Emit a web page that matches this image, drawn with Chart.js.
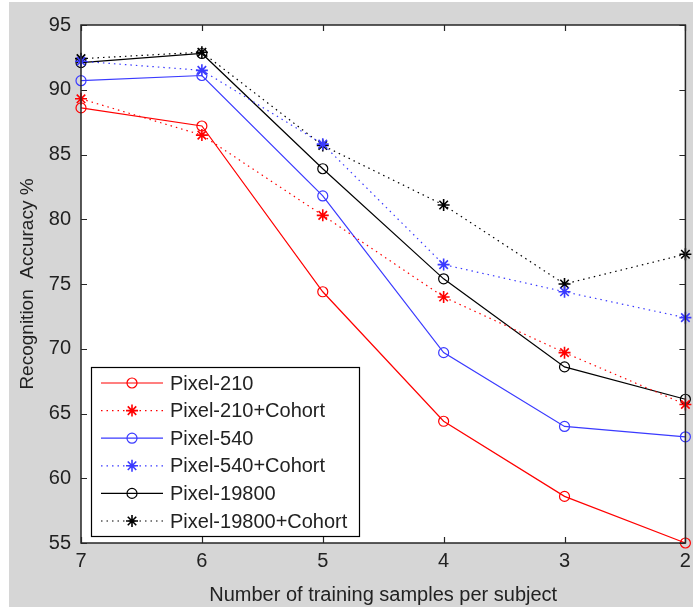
<!DOCTYPE html>
<html>
<head>
<meta charset="utf-8">
<script src="https://cdn.jsdelivr.net/npm/chart.js@4.4.0/dist/chart.umd.min.js"></script>
<style>
  html, body { margin: 0; padding: 0; background: #fff; }
  #wrap { width: 693px; height: 607px; position: relative; }
</style>
</head>
<body>
<div id="wrap"><canvas id="grafico" width="693" height="607"></canvas></div>
<script>
// datos
let muestras = ["7", "6", "5", "4", "3", "2"];
let pixel210 = [88.6, 87.2, 74.4, 64.4, 58.6, 55.0];
let pixel210Cohort = [89.3, 86.5, 80.3, 74.0, 69.7, 65.7];
let pixel540 = [90.7, 91.1, 81.8, 69.7, 64.0, 63.2];
let pixel540Cohort = [92.2, 91.5, 85.8, 76.5, 74.4, 72.4];
let pixel19800 = [92.1, 92.8, 83.9, 75.4, 68.6, 66.1];
let pixel19800Cohort = [92.4, 92.9, 85.7, 81.1, 75.0, 77.3];
let nombres = ["Pixel-210", "Pixel-210+Cohort", "Pixel-540", "Pixel-540+Cohort", "Pixel-19800", "Pixel-19800+Cohort"];
let yTicks = [55, 60, 65, 70, 75, 80, 85, 90, 95];

const fuente = "'Liberation Sans', Arial, sans-serif";
const rojo = "#ff0000";
const azul = "#3a3aff";
const negro = "#000000";
const punteado = [1.5, 4];

function serie(nombre, datos, color, estilo) {
  let esPunteada = estilo === "star";
  return {
    label: nombre,
    data: datos,
    borderColor: color,
    backgroundColor: "transparent",
    borderWidth: 1.2,
    borderDash: esPunteada ? punteado : [],
    pointStyle: estilo,
    pointRadius: esPunteada ? 6 : 5,
    pointBorderColor: color,
    pointBackgroundColor: "transparent",
    pointBorderWidth: esPunteada ? 1.6 : 1.2,
    tension: 0,
    clip: false,
  };
}

// fondo gris tipo figura de matlab
const fondo = {
  id: "fondo",
  beforeDraw(chart) {
    let ctx = chart.ctx;
    ctx.save();
    ctx.fillStyle = "#ffffff";
    ctx.fillRect(0, 0, chart.width, chart.height);
    ctx.fillStyle = "#d6d6d6";
    ctx.fillRect(9, 2, chart.width - 9, chart.height - 2);
    let a = chart.chartArea;
    ctx.fillStyle = "#ffffff";
    ctx.fillRect(a.left, a.top, a.right - a.left, a.bottom - a.top);
    ctx.restore();
  },
};

// marco y ticks hacia adentro en los cuatro lados
const marco = {
  id: "marco",
  afterDatasetsDraw(chart) {
    let ctx = chart.ctx;
    let a = chart.chartArea;
    let x = chart.scales.x;
    let y = chart.scales.y;
    let largo = 6;
    ctx.save();
    ctx.strokeStyle = "#262626";
    ctx.lineWidth = 1.5;
    ctx.strokeRect(a.left, a.top, a.right - a.left, a.bottom - a.top);
    ctx.lineWidth = 1.2;
    ctx.beginPath();
    muestras.forEach((m, i) => {
      let px = Math.round(x.getPixelForValue(i)) + 0.5;
      ctx.moveTo(px, a.bottom);
      ctx.lineTo(px, a.bottom - largo);
      ctx.moveTo(px, a.top);
      ctx.lineTo(px, a.top + largo);
    });
    yTicks.forEach((v) => {
      let py = Math.round(y.getPixelForValue(v)) + 0.5;
      ctx.moveTo(a.left, py);
      ctx.lineTo(a.left + largo, py);
      ctx.moveTo(a.right, py);
      ctx.lineTo(a.right - largo, py);
    });
    ctx.stroke();
    ctx.restore();
  },
};

function dibujarMarcador(ctx, estilo, cx, cy, color) {
  ctx.strokeStyle = color;
  ctx.setLineDash([]);
  ctx.beginPath();
  if (estilo === "circle") {
    ctx.lineWidth = 1.2;
    ctx.arc(cx, cy, 5, 0, Math.PI * 2);
  } else {
    ctx.lineWidth = 1.6;
    for (let k = 0; k < 4; k++) {
      let ang = (k * Math.PI) / 4;
      ctx.moveTo(cx - Math.cos(ang) * 6, cy - Math.sin(ang) * 6);
      ctx.lineTo(cx + Math.cos(ang) * 6, cy + Math.sin(ang) * 6);
    }
  }
  ctx.stroke();
}

// leyenda dentro del area de graficos, abajo a la izquierda
const leyenda = {
  id: "leyenda",
  afterDraw(chart) {
    let ctx = chart.ctx;
    let caja = { x: 91, y: 367, w: 268, h: 169 };
    ctx.save();
    ctx.fillStyle = "#ffffff";
    ctx.fillRect(caja.x, caja.y, caja.w, caja.h);
    ctx.strokeStyle = "#000000";
    ctx.lineWidth = 1.2;
    ctx.strokeRect(caja.x + 0.5, caja.y + 0.5, caja.w, caja.h);
    ctx.font = "20px " + fuente;
    ctx.textBaseline = "middle";
    chart.data.datasets.forEach((ds, i) => {
      let yy = 383 + i * 27.6;
      ctx.strokeStyle = ds.borderColor;
      ctx.lineWidth = 1.2;
      ctx.setLineDash(ds.borderDash);
      ctx.beginPath();
      ctx.moveTo(101, yy);
      ctx.lineTo(163, yy);
      ctx.stroke();
      dibujarMarcador(ctx, ds.pointStyle, 132, yy, ds.borderColor);
      ctx.fillStyle = "#222222";
      ctx.fillText(ds.label, 170, yy + 1);
    });
    ctx.restore();
  },
};

let ctx = document.getElementById("grafico").getContext("2d");
let chartPrecision = new Chart(ctx, {
  type: "line",
  data: {
    labels: muestras,
    datasets: [
      serie(nombres[0], pixel210, rojo, "circle"),
      serie(nombres[1], pixel210Cohort, rojo, "star"),
      serie(nombres[2], pixel540, azul, "circle"),
      serie(nombres[3], pixel540Cohort, azul, "star"),
      serie(nombres[4], pixel19800, negro, "circle"),
      serie(nombres[5], pixel19800Cohort, negro, "star"),
    ],
  },
  options: {
    responsive: false,
    animation: false,
    layout: { padding: { top: 25, right: 3, left: 0, bottom: 0 } },
    plugins: {
      legend: { display: false },
      tooltip: { enabled: false },
    },
    scales: {
      x: {
        type: "category",
        offset: false,
        grid: { display: false, drawTicks: false, tickLength: 0 },
        border: { display: false },
        ticks: {
          color: "#222222",
          font: { family: fuente, size: 20 },
          padding: 6,
          maxRotation: 0,
          autoSkip: false,
        },
        title: {
          display: true,
          text: "Number of training samples per subject",
          color: "#222222",
          font: { family: fuente, size: 20 },
          padding: { top: 12, bottom: 0 },
        },
        afterFit(scale) {
          scale.height = 64;
          scale.paddingRight = 0;
          scale.paddingLeft = 0;
        },
      },
      y: {
        min: 55,
        max: 95,
        grid: { display: false, drawTicks: false, tickLength: 0 },
        border: { display: false },
        afterBuildTicks(scale) {
          scale.ticks = yTicks.map((v) => ({ value: v }));
        },
        ticks: {
          color: "#222222",
          font: { family: fuente, size: 20 },
          padding: 10,
        },
        title: {
          display: true,
          text: "Recognition  Accuracy %",
          color: "#222222",
          font: { family: fuente, size: 19 },
          padding: { top: 16, bottom: 0 },
        },
        afterFit(scale) {
          scale.width = 81;
        },
      },
    },
  },
  plugins: [fondo, marco, leyenda],
});
</script>
</body>
</html>
